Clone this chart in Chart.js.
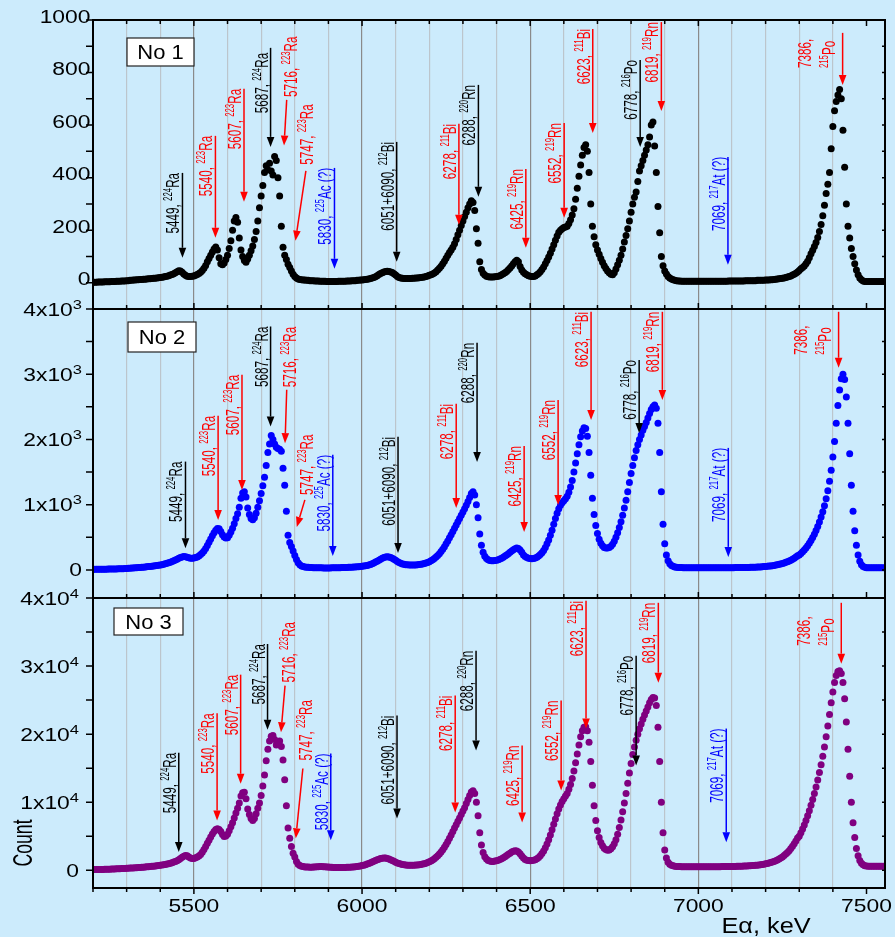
<!DOCTYPE html>
<html>
<head>
<meta charset="utf-8">
<script src="https://cdn.jsdelivr.net/npm/chart.js@4.4.1/dist/chart.umd.min.js"></script>
<style>
  html, body { margin: 0; padding: 0; background: #ccebfc; }
  #wrap { position: relative; width: 895px; height: 937px; overflow: hidden; }
  #wrap canvas { position: absolute; left: 0; top: 0; }
</style>
</head>
<body>
<div id="wrap">
  <canvas id="p1" width="895" height="937"></canvas>
  <canvas id="p2" width="895" height="937"></canvas>
  <canvas id="p3" width="895" height="937"></canvas>
</div>
<script>
// spectrum channel grid (keV)
const E0 = 5200, dE = 5;

// counts per 5 keV channel, 5200 ... 7550 keV, one row = 100 keV
const countsNo1 = [
  2,2,2,3,3,3,3,4,4,4,4,5,5,5,6,6,6,7,7,7,
  8,8,9,9,10,10,11,11,12,12,13,13,14,15,15,16,17,17,18,19,
  20,21,22,24,25,27,29,31,34,38,42,46,45,40,33,28,25,24,24,25,
  26,28,31,35,40,47,55,66,80,92,105,117,128,136,125,95,72,68,75,88,
  105,130,160,200,235,248,230,170,125,100,85,78,90,105,122,140,165,195,235,285,
  330,370,420,445,430,455,425,410,480,465,400,330,215,135,105,88,70,58,45,32,
  24,18,14,12,11,10,10,9,9,8,8,8,7,7,7,6,6,6,6,5,
  5,5,5,5,5,5,6,6,6,6,6,7,7,7,8,8,8,9,9,10,
  10,11,12,13,14,16,18,20,23,27,31,35,38,41,43,44,43,41,39,34,
  29,24,20,18,17,16,16,16,16,16,17,17,18,18,19,20,21,22,24,26,
  28,30,33,37,42,48,55,63,72,82,93,105,115,125,135,148,165,183,200,218,
  235,252,268,285,300,312,305,275,205,150,80,50,36,29,25,23,22,22,22,23,
  24,25,27,30,34,38,43,49,56,64,72,80,86,80,62,48,40,34,30,27,
  25,24,24,26,30,35,42,50,60,72,85,98,112,128,145,162,178,192,200,205,
  210,212,215,225,240,258,282,318,360,405,448,485,515,525,500,420,300,215,175,145,
  125,108,92,78,65,54,45,38,32,30,38,52,68,86,105,128,155,180,205,235,
  268,300,325,345,385,425,445,465,485,505,525,555,600,612,520,420,290,190,100,65,
  45,33,24,18,14,11,9,8,7,7,6,6,6,6,6,6,6,6,6,6,
  6,6,6,6,6,6,6,6,6,6,6,6,6,6,6,6,6,6,7,7,
  7,7,7,7,7,7,7,7,8,8,8,8,8,8,8,9,9,9,9,9,
  10,10,10,11,11,12,13,14,15,16,17,18,20,22,24,26,29,32,36,41,
  47,53,58,64,72,82,95,110,124,138,153,172,195,222,255,295,340,375,420,510,
  595,655,690,715,735,700,580,440,300,215,170,130,100,72,48,30,18,11,7,5,
  5,5,5,5,5,5,5,5,5,5,5
];

const countsNo2 = [
  8,9,9,10,10,11,11,12,12,13,13,14,15,15,16,17,18,19,20,22,
  24,25,27,28,30,32,34,36,38,40,42,45,48,51,54,57,61,65,69,73,
  77,81,87,94,101,109,117,128,140,152,165,178,190,200,205,203,195,186,180,178,
  182,190,200,215,235,260,290,330,375,425,475,525,570,610,635,630,590,540,505,490,
  495,530,580,640,710,790,860,960,1100,1180,1200,1120,950,850,790,770,800,870,960,1060,
  1170,1290,1420,1600,1800,1930,2060,2000,1930,1880,1860,1850,1820,1560,1300,900,530,420,360,290,
  220,160,110,80,62,52,46,42,40,38,36,35,34,33,33,32,32,31,31,31,
  31,31,32,32,33,33,34,35,36,37,38,39,40,41,42,44,46,48,50,53,
  56,60,65,70,77,85,95,107,120,135,150,165,178,190,198,203,200,192,180,165,
  148,130,115,102,93,86,81,78,76,75,75,76,77,79,82,86,91,97,105,115,
  126,140,156,175,197,222,250,282,318,357,400,445,492,540,590,640,690,740,790,840,
  890,940,990,1050,1110,1170,1200,1150,1000,800,550,380,270,210,175,155,145,140,140,145,
  150,158,168,180,195,212,230,250,270,290,310,325,335,330,305,270,230,205,190,180,
  175,172,175,182,195,212,235,265,300,345,400,460,530,610,700,790,870,940,990,1030,
  1060,1090,1130,1190,1270,1370,1500,1640,1780,1920,2040,2130,2180,2170,2050,1800,1450,1100,850,680,
  560,470,410,370,345,335,335,345,365,395,440,500,570,650,740,840,950,1070,1200,1340,
  1480,1600,1720,1830,1920,2000,2070,2140,2200,2260,2330,2400,2460,2500,2530,2480,2250,1800,1200,700,
  400,230,140,95,70,55,47,42,39,37,36,35,34,34,33,33,33,33,33,33,
  33,33,33,33,33,33,33,33,33,33,34,34,34,34,34,34,35,35,35,35,
  35,35,36,36,36,37,37,38,38,39,39,40,41,42,43,44,45,47,49,51,
  53,56,59,62,66,70,75,80,86,93,100,108,117,127,138,150,164,180,198,218,
  230,252,278,306,337,372,410,452,498,549,605,667,735,810,893,985,1090,1215,1360,1530,
  1730,1970,2250,2520,2760,2930,3000,2920,2650,2250,1780,1300,900,600,380,230,135,80,52,40,
  35,34,33,33,33,33,33,33,33,33,33
];

const countsNo3 = [
  100,105,110,115,120,128,135,143,150,160,170,180,190,200,212,224,236,250,262,276,
  290,305,320,336,352,370,388,406,425,445,466,488,510,534,558,584,610,640,670,700,
  733,770,810,860,910,970,1040,1120,1210,1310,1420,1560,1720,1900,2080,2190,2150,1960,1800,1720,
  1750,1830,1950,2100,2330,2650,3050,3500,3960,4420,4880,5320,5700,6000,6110,6000,5700,5250,4980,5050,
  5300,5800,6400,7000,7700,8400,9100,9900,10900,11400,11480,10500,9000,8200,7600,7330,7600,8300,9100,9900,
  11000,12400,14000,16100,17800,19000,19700,19800,19200,18400,18600,19000,18200,16200,13300,9500,6200,4700,3500,2500,
  1950,1300,900,700,600,540,500,480,470,460,460,470,490,510,530,540,540,530,510,490,
  470,450,430,420,410,400,400,400,405,410,420,430,445,460,480,500,530,560,600,650,
  700,760,830,910,1000,1100,1210,1320,1430,1540,1640,1720,1780,1810,1790,1740,1660,1560,1440,1320,
  1200,1090,990,910,850,800,770,750,740,740,745,755,770,790,820,860,910,970,1050,1140,
  1250,1380,1530,1700,1900,2130,2400,2700,3030,3400,3800,4230,4700,5200,5700,6200,6700,7200,7700,8200,
  8700,9200,9800,10400,11000,11500,11700,11300,10000,8000,5500,3700,2600,2000,1650,1450,1350,1300,1300,1350,
  1400,1480,1580,1700,1840,2000,2170,2350,2520,2680,2800,2870,2850,2700,2420,2100,1800,1600,1490,1440,
  1420,1430,1470,1550,1680,1870,2120,2450,2850,3330,3880,4500,5200,5950,6750,7550,8300,9000,9600,10100,
  10500,10900,11300,11900,12600,13500,14600,15800,17100,18400,19600,20500,21000,21100,20500,18800,16000,12500,9500,7300,
  5800,4800,4100,3600,3250,3050,2950,3000,3150,3450,3900,4500,5300,6300,7400,8600,9900,11300,12800,14300,
  15700,17000,18100,19100,20000,20800,21500,22200,22800,23400,24000,24600,25100,25400,25300,24200,21000,16000,10000,5500,
  3000,1800,1200,900,750,660,600,570,550,540,530,525,520,520,520,520,520,520,520,520,
  520,520,520,520,520,520,520,520,525,525,530,530,535,535,540,540,545,550,555,560,
  565,570,575,580,590,600,610,620,630,640,655,670,690,710,730,760,790,820,860,900,
  950,1000,1060,1130,1210,1300,1400,1520,1650,1800,1970,2160,2380,2620,2890,3190,3520,3890,4300,4760,
  5000,5500,6050,6650,7300,8000,8750,9550,10400,11300,12250,13250,14350,15500,16750,18100,19600,21200,22900,24600,
  26200,27600,28600,29200,29300,28900,27600,25200,21800,17800,13800,10000,7000,4800,3200,2150,1450,1050,800,680,
  620,600,590,580,580,580,580,580,580,580,580
];

// axis ticks and labels
const xLabelTicks = [5500, 6000, 6500, 7000, 7500];
const yTicksNo1 = [0, 200, 400, 600, 800, 1000];
const yLabelsNo1 = [['0'], ['200'], ['400'], ['600'], ['800'], ['1000']];
const yTicksNo2 = [0, 1000, 2000, 3000, 4000];
const yLabelsNo2 = [['0'], ['1x10', '3'], ['2x10', '3'], ['3x10', '3'], ['4x10', '3']];
const yTicksNo3 = [0, 10000, 20000, 30000, 40000];
const yLabelsNo3 = [['0'], ['1x10', '4'], ['2x10', '4'], ['3x10', '4'], ['4x10', '4']];

const BLACK = '#000000', RED = '#ff0000', BLUE = '#0000ff';

// arrows: from (e1,c1) to tip (e2,c2); label anchored at (le,lc), '^' = superscript
const notesNo1 = [
  { e1: 5466, c1: 418, e2: 5466, c2: 95, color: BLACK, lines: [['5449, ', '^224', 'Ra']] },
  { e1: 5564, c1: 559, e2: 5564, c2: 171, color: RED, lines: [['5540, ', '^223', 'Ra']] },
  { e1: 5649, c1: 738, e2: 5649, c2: 308, color: RED, lines: [['5607, ', '^223', 'Ra']] },
  { e1: 5728, c1: 894, e2: 5728, c2: 517, color: BLACK, lines: [['5687, ', '^224', 'Ra']], lc: 875 },
  { e1: 5776, c1: 696, e2: 5768, c2: 522, color: RED, lines: [['5716, ', '^223', 'Ra']], le: 5815, lc: 707, align: 'start' },
  { e1: 5833, c1: 426, e2: 5802, c2: 160, color: RED, lines: [['5747, ', '^223', 'Ra']], le: 5863, lc: 449, align: 'start' },
  { e1: 5918, c1: 437, e2: 5918, c2: 53, color: BLUE, lines: [['5830, ', '^225', 'Ac (?)']] },
  { e1: 6103, c1: 536, e2: 6103, c2: 80, color: BLACK, lines: [['6051+6090, ', '^212', 'Bi']] },
  { e1: 6288, c1: 605, e2: 6288, c2: 221, color: RED, lines: [['6278, ', '^211', 'Bi']] },
  { e1: 6346, c1: 753, e2: 6346, c2: 327, color: BLACK, lines: [['6288, ', '^220', 'Rn']] },
  { e1: 6487, c1: 433, e2: 6487, c2: 133, color: RED, lines: [['6425, ', '^219', 'Rn']] },
  { e1: 6601, c1: 608, e2: 6601, c2: 247, color: RED, lines: [['6552, ', '^219', 'Rn']] },
  { e1: 6686, c1: 966, e2: 6686, c2: 570, color: RED, lines: [['6623, ', '^211', 'Bi']] },
  { e1: 6827, c1: 848, e2: 6827, c2: 517, color: BLACK, lines: [['6778, ', '^216', 'Po']] },
  { e1: 6890, c1: 992, e2: 6890, c2: 654, color: RED, lines: [['6819, ', '^219', 'Rn']] },
  { e1: 7088, c1: 479, e2: 7088, c2: 68, color: BLUE, lines: [['7069, ', '^217', 'At (?)']] },
  { e1: 7429, c1: 951, e2: 7429, c2: 753, color: RED, lines: [['7386,'], ['^215', 'Po']], le: 7416, lc: 817, align: 'start' }
];

const notesNo2 = [
  { e1: 5475, c1: 1661, e2: 5475, c2: 333, color: BLACK, lines: [['5449, ', '^224', 'Ra']] },
  { e1: 5572, c1: 2362, e2: 5572, c2: 767, color: RED, lines: [['5540, ', '^223', 'Ra']] },
  { e1: 5643, c1: 2991, e2: 5643, c2: 1227, color: RED, lines: [['5607, ', '^223', 'Ra']] },
  { e1: 5728, c1: 3732, e2: 5728, c2: 2198, color: BLACK, lines: [['5687, ', '^224', 'Ra']] },
  { e1: 5776, c1: 2761, e2: 5771, c2: 1943, color: RED, lines: [['5716, ', '^223', 'Ra']], le: 5812, lc: 2800, align: 'start' },
  { e1: 5830, c1: 1074, e2: 5806, c2: 660, color: RED, lines: [['5747, ', '^223', 'Ra']], le: 5863, lc: 1150, align: 'start' },
  { e1: 5913, c1: 1764, e2: 5913, c2: 215, color: BLUE, lines: [['5830, ', '^225', 'Ac (?)']] },
  { e1: 6107, c1: 2040, e2: 6107, c2: 260, color: BLACK, lines: [['6051+6090, ', '^212', 'Bi']] },
  { e1: 6280, c1: 2546, e2: 6280, c2: 950, color: RED, lines: [['6278, ', '^211', 'Bi']] },
  { e1: 6342, c1: 3481, e2: 6342, c2: 1656, color: BLACK, lines: [['6288, ', '^220', 'Rn']] },
  { e1: 6482, c1: 1900, e2: 6482, c2: 583, color: RED, lines: [['6425, ', '^219', 'Rn']] },
  { e1: 6583, c1: 2607, e2: 6583, c2: 997, color: RED, lines: [['6552, ', '^219', 'Rn']] },
  { e1: 6681, c1: 3957, e2: 6681, c2: 2300, color: RED, lines: [['6623, ', '^211', 'Bi']] },
  { e1: 6824, c1: 3220, e2: 6824, c2: 2100, color: BLACK, lines: [['6778, ', '^216', 'Po']] },
  { e1: 6893, c1: 3957, e2: 6893, c2: 2607, color: RED, lines: [['6819, ', '^219', 'Rn']] },
  { e1: 7089, c1: 1871, e2: 7089, c2: 200, color: BLUE, lines: [['7069, ', '^217', 'At (?)']] },
  { e1: 7417, c1: 3957, e2: 7417, c2: 3100, color: RED, lines: [['7386,'], ['^215', 'Po']], le: 7404, lc: 3300, align: 'start' }
];

const notesNo3 = [
  { e1: 5455, c1: 17258, e2: 5455, c2: 2683, color: BLACK, lines: [['5449, ', '^224', 'Ra']] },
  { e1: 5569, c1: 23065, e2: 5569, c2: 7331, color: RED, lines: [['5540, ', '^223', 'Ra']] },
  { e1: 5639, c1: 28739, e2: 5639, c2: 12712, color: RED, lines: [['5607, ', '^223', 'Ra']] },
  { e1: 5719, c1: 33240, e2: 5719, c2: 20630, color: BLACK, lines: [['5687, ', '^224', 'Ra']] },
  { e1: 5771, c1: 27126, e2: 5759, c2: 20279, color: RED, lines: [['5716, ', '^223', 'Ra']], le: 5810, lc: 27600, align: 'start' },
  { e1: 5824, c1: 14956, e2: 5803, c2: 4692, color: RED, lines: [['5747, ', '^223', 'Ra']], le: 5860, lc: 16129, align: 'start' },
  { e1: 5907, c1: 17155, e2: 5907, c2: 4399, color: BLUE, lines: [['5830, ', '^225', 'Ac (?)']] },
  { e1: 6104, c1: 22727, e2: 6104, c2: 7625, color: BLACK, lines: [['6051+6090, ', '^212', 'Bi']] },
  { e1: 6277, c1: 25660, e2: 6277, c2: 8504, color: RED, lines: [['6278, ', '^211', 'Bi']] },
  { e1: 6339, c1: 32258, e2: 6339, c2: 17595, color: BLACK, lines: [['6288, ', '^220', 'Rn']] },
  { e1: 6476, c1: 18328, e2: 6476, c2: 7038, color: RED, lines: [['6425, ', '^219', 'Rn']] },
  { e1: 6592, c1: 24927, e2: 6592, c2: 11730, color: RED, lines: [['6552, ', '^219', 'Rn']] },
  { e1: 6666, c1: 39589, e2: 6666, c2: 20821, color: RED, lines: [['6623, ', '^211', 'Bi']] },
  { e1: 6815, c1: 31525, e2: 6815, c2: 15396, color: BLACK, lines: [['6778, ', '^216', 'Po']] },
  { e1: 6881, c1: 39296, e2: 6881, c2: 27566, color: RED, lines: [['6819, ', '^219', 'Rn']] },
  { e1: 7083, c1: 20821, e2: 7083, c2: 4106, color: BLUE, lines: [['7069, ', '^217', 'At (?)']] },
  { e1: 7425, c1: 39296, e2: 7425, c2: 30352, color: RED, lines: [['7386,'], ['^215', 'Po']], le: 7412, lc: 33000, align: 'start' }
];

const FONT = '"Liberation Sans", Arial, sans-serif';
const GRID_MINOR = '#bcc5cc', GRID_MAJOR = '#8a8a8a';

const panels = [
  { id: 'p1', name: 'No 1', counts: countsNo1, color: '#000000', yMin: -100, yMax: 1000, yStep: 100,
    yTicks: yTicksNo1, yLabels: yLabelsNo1, top: 20, bottom: 309, notes: notesNo1,
    box: [34, 18, 67, 28], labelRight: 90.5, labelShift: -4, topTicks: true, xLabels: false },
  { id: 'p2', name: 'No 2', counts: countsNo2, color: '#0000ff', yMin: -430, yMax: 4000, yStep: 500,
    yTicks: yTicksNo2, yLabels: yLabelsNo2, top: 309, bottom: 598, notes: notesNo2,
    box: [35, 13, 68, 30], labelRight: 82, labelShift: 0, topTicks: false, xLabels: false },
  { id: 'p3', name: 'No 3', counts: countsNo3, color: '#800080', yMin: -2600, yMax: 40000, yStep: 5000,
    yTicks: yTicksNo3, yLabels: yLabelsNo3, top: 598, bottom: 888, notes: notesNo3,
    box: [21, 10, 69, 27], labelRight: 79, labelShift: 0, topTicks: false, xLabels: true }
];

// draw a run of text parts along +x from the current origin, baseline y
function partsWidth(ctx, parts, size, supSize) {
  let w = 0;
  parts.forEach(p => {
    const sup = p[0] === '^';
    ctx.font = (sup ? supSize : size) + 'px ' + FONT;
    w += ctx.measureText(sup ? p.slice(1) : p).width;
  });
  return w;
}
function drawParts(ctx, parts, x, y, size, supSize, rise) {
  parts.forEach(p => {
    const sup = p[0] === '^';
    const t = sup ? p.slice(1) : p;
    ctx.font = (sup ? supSize : size) + 'px ' + FONT;
    ctx.fillText(t, x, sup ? y - rise : y);
    x += ctx.measureText(t).width;
  });
}

function framePlugin(panel) {
  return {
    id: 'frame_' + panel.id,
    afterDraw(chart) {
      const ctx = chart.ctx;
      const a = chart.chartArea;
      const xs = chart.scales.x, ys = chart.scales.y;
      ctx.save();
      ctx.textBaseline = 'alphabetic';
      ctx.textAlign = 'left';

      // x tick marks every 100 keV
      ctx.strokeStyle = '#000';
      ctx.lineWidth = 1.5;
      for (let e = 5200; e <= 7500; e += 100) {
        const x = xs.getPixelForValue(e);
        const len = e % 500 === 0 ? 6 : 4;
        ctx.beginPath();
        if (panel.topTicks) { ctx.moveTo(x, a.top); ctx.lineTo(x, a.top + len); }
        if (panel.xLabels) { ctx.moveTo(x, a.bottom); ctx.lineTo(x, a.bottom + len); }
        else { ctx.moveTo(x, a.bottom); ctx.lineTo(x, a.bottom - len); }
        ctx.stroke();
      }
      // y tick marks
      for (let v = 0; v <= panel.yMax; v += panel.yStep) {
        const y = ys.getPixelForValue(v);
        ctx.beginPath();
        ctx.moveTo(a.left - 7, y); ctx.lineTo(a.left, y);
        ctx.moveTo(a.right, y); ctx.lineTo(a.right - 3, y);
        ctx.stroke();
      }
      // frame
      ctx.lineWidth = 2;
      ctx.strokeRect(a.left, a.top, a.right - a.left, a.bottom - a.top);

      // y tick labels
      ctx.fillStyle = '#000';
      panel.yTicks.forEach((v, i) => {
        const parts = panel.yLabels[i];
        const y = ys.getPixelForValue(v) + panel.labelShift;
        ctx.save();
        ctx.translate(panel.labelRight, y + 6.5);
        ctx.scale(1.27, 1);
        ctx.font = '18px ' + FONT;
        const wMain = ctx.measureText(parts[0]).width;
        let wSup = 0;
        if (parts[1]) { ctx.font = '13px ' + FONT; wSup = ctx.measureText(parts[1]).width; }
        ctx.font = '18px ' + FONT;
        ctx.fillText(parts[0], -wMain - wSup, 0);
        if (parts[1]) { ctx.font = '13px ' + FONT; ctx.fillText(parts[1], -wSup, -7); }
        ctx.restore();
      });

      // x tick labels and axis titles on the bottom panel
      if (panel.xLabels) {
        xLabelTicks.forEach(e => {
          const x = xs.getPixelForValue(e);
          ctx.save();
          ctx.translate(x, a.bottom + 23.5);
          ctx.scale(1.27, 1);
          ctx.font = '18px ' + FONT;
          ctx.textAlign = 'center';
          ctx.fillText(String(e), 0, 0);
          ctx.restore();
        });
        ctx.save();
        ctx.translate(766, 933);
        ctx.scale(1.15, 1);
        ctx.font = '22px ' + FONT;
        ctx.textAlign = 'center';
        ctx.fillText('E\u03b1, keV', 0, 0);
        ctx.restore();
        ctx.save();
        ctx.translate(32, 843);
        ctx.rotate(-Math.PI / 2);
        ctx.scale(0.84, 1.3);
        ctx.font = '21px ' + FONT;
        ctx.textAlign = 'center';
        ctx.fillText('Count', 0, 0);
        ctx.restore();
      }

      // panel name box
      const [bx, by, bw, bh] = panel.box;
      ctx.fillStyle = '#fff';
      ctx.fillRect(a.left + bx, a.top + by, bw, bh);
      ctx.lineWidth = 1.2;
      ctx.strokeStyle = '#222';
      ctx.strokeRect(a.left + bx, a.top + by, bw, bh);
      ctx.fillStyle = '#000';
      ctx.save();
      ctx.translate(a.left + bx + bw / 2, a.top + by + bh / 2 + 7);
      ctx.scale(1.1, 1);
      ctx.font = '20px ' + FONT;
      ctx.textAlign = 'center';
      ctx.fillText(panel.name, 0, 0);
      ctx.restore();

      // annotation arrows and labels
      panel.notes.forEach(n => {
        const x1 = xs.getPixelForValue(n.e1), y1 = ys.getPixelForValue(n.c1);
        const x2 = xs.getPixelForValue(n.e2), y2 = ys.getPixelForValue(n.c2);
        const ang = Math.atan2(y2 - y1, x2 - x1);
        const L = 10, W = 3.8;
        const bxp = x2 - L * Math.cos(ang), byp = y2 - L * Math.sin(ang);
        ctx.strokeStyle = n.color;
        ctx.fillStyle = n.color;
        ctx.lineWidth = 1.5;
        ctx.beginPath();
        ctx.moveTo(x1, y1); ctx.lineTo(bxp, byp);
        ctx.stroke();
        ctx.beginPath();
        ctx.moveTo(x2, y2);
        ctx.lineTo(bxp + W * Math.sin(ang), byp - W * Math.cos(ang));
        ctx.lineTo(bxp - W * Math.sin(ang), byp + W * Math.cos(ang));
        ctx.closePath();
        ctx.fill();

        const lx = xs.getPixelForValue(n.le !== undefined ? n.le : n.e1) - 3;
        const ly = ys.getPixelForValue(n.lc !== undefined ? n.lc : n.c1);
        ctx.save();
        ctx.translate(lx, ly);
        ctx.rotate(-Math.PI / 2);
        ctx.scale(0.65, 1);
        n.lines.forEach((ln, i) => {
          const w = partsWidth(ctx, ln, 18, 12);
          const x = n.align === 'start' ? 0 : -w;
          const y = -(n.lines.length - 1 - i) * 24;
          drawParts(ctx, ln, x, y, 18, 12, 7);
        });
        ctx.restore();
      });
      ctx.restore();
    }
  };
}

panels.forEach(panel => {
  const pts = panel.counts.map((c, i) => ({ x: E0 + i * dE, y: c }));
  new Chart(document.getElementById(panel.id).getContext('2d'), {
    type: 'scatter',
    data: {
      datasets: [{
        label: panel.name,
        data: pts,
        pointRadius: 3.5,
        pointBorderWidth: 0,
        pointBackgroundColor: panel.color,
        pointBorderColor: panel.color,
        showLine: false
      }]
    },
    options: {
      responsive: false,
      animation: false,
      devicePixelRatio: 1,
      events: [],
      layout: { padding: { left: 93, right: 10, top: panel.top, bottom: 937 - panel.bottom } },
      plugins: { legend: { display: false }, tooltip: { enabled: false } },
      scales: {
        x: {
          type: 'linear', min: 5200, max: 7555,
          ticks: { display: false, stepSize: 100 },
          afterBuildTicks: s => { s.ticks = s.ticks.filter(t => t.value % 100 === 0); },
          grid: {
            drawTicks: false, lineWidth: 1.2,
            color: c => (c.tick && c.tick.value % 500 === 0) ? GRID_MAJOR : GRID_MINOR
          },
          border: { display: false },
          afterFit: s => { s.height = 0; }
        },
        y: {
          type: 'linear', min: panel.yMin, max: panel.yMax,
          ticks: { display: false },
          grid: { display: false },
          border: { display: false },
          afterFit: s => { s.width = 0; }
        }
      }
    },
    plugins: [framePlugin(panel)]
  });
});
</script>
</body>
</html>
